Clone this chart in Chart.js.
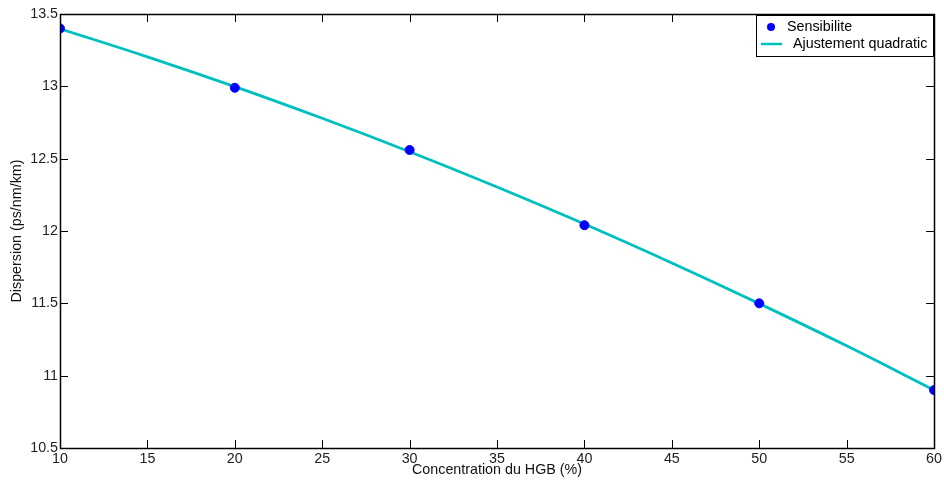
<!DOCTYPE html>
<html>
<head>
<meta charset="utf-8">
<script src="https://cdn.jsdelivr.net/npm/chart.js@4"></script>
<style>
  html, body { margin: 0; padding: 0; background: #fff; }
  #wrap { width: 944px; height: 486px; }
</style>
</head>
<body>
<div id="wrap"><canvas id="chart"></canvas></div>
<script>
// measured points
const concentration = [10, 20, 30, 40, 50, 60]
const dispersion = [13.4, 12.99, 12.56, 12.04, 11.5, 10.9]

// quadratic fit curve
const fitX = [10, 15, 20, 25, 30, 35, 40, 45, 50, 55, 60]
const fitY = [13.398, 13.204, 12.998, 12.779, 12.548, 12.304, 12.048, 11.779, 11.498, 11.206, 10.9]

const xTicks = [10, 15, 20, 25, 30, 35, 40, 45, 50, 55, 60]
const yTicks = [10.5, 11, 11.5, 12, 12.5, 13, 13.5]

const FONT = 'Liberation Sans, Arial, sans-serif'
const FS = 14.3

// MATLAB style frame, inward ticks and legend box inside the axes
const matlabFrame = {
  id: 'matlabFrame',
  afterDraw(chart) {
    const { ctx, chartArea: a, scales } = chart
    ctx.save()
    ctx.strokeStyle = '#000'
    ctx.lineWidth = 1
    const len = 8
    ctx.beginPath()
    xTicks.forEach(v => {
      const x = Math.round(scales.x.getPixelForValue(v)) + 0.5
      ctx.moveTo(x, a.bottom); ctx.lineTo(x, a.bottom - len)
      ctx.moveTo(x, a.top); ctx.lineTo(x, a.top + len)
    })
    yTicks.forEach(v => {
      const y = Math.round(scales.y.getPixelForValue(v)) + 0.5
      ctx.moveTo(a.left, y); ctx.lineTo(a.left + len, y)
      ctx.moveTo(a.right, y); ctx.lineTo(a.right - len, y)
    })
    ctx.stroke()
    ctx.lineWidth = 1.5
    ctx.strokeRect(Math.round(a.left) + 0.5, Math.round(a.top) + 0.5, Math.round(a.right - a.left), Math.round(a.bottom - a.top))

    // legend
    const bx = 756, by = 15, bw = 177, bh = 41
    ctx.fillStyle = '#fff'
    ctx.fillRect(bx, by, bw, bh)
    ctx.lineWidth = 1
    ctx.strokeRect(bx + 0.5, by + 0.5, bw, bh)
    ctx.font = FS + 'px ' + FONT
    ctx.textBaseline = 'middle'
    const ds = chart.data.datasets
    ctx.beginPath()
    ctx.fillStyle = ds[0].backgroundColor
    ctx.arc(bx + 15, by + 12, 4, 0, Math.PI * 2)
    ctx.fill()
    ctx.fillStyle = '#000'
    ctx.fillText(ds[0].label, bx + 31, by + 12)
    ctx.strokeStyle = ds[1].borderColor
    ctx.lineWidth = 2.5
    ctx.beginPath()
    ctx.moveTo(bx + 5, by + 29); ctx.lineTo(bx + 26, by + 29)
    ctx.stroke()
    ctx.fillText(ds[1].label, bx + 37, by + 29)
    ctx.restore()
  }
}

new Chart(document.getElementById('chart'), {
  type: 'scatter',
  data: {
    datasets: [
      {
        label: 'Sensibilite',
        data: concentration.map((x, i) => ({ x, y: dispersion[i] })),
        backgroundColor: '#0000ff',
        borderColor: '#0000ff',
        pointRadius: 4.5,
        order: 0
      },
      {
        label: 'Ajustement quadratic',
        type: 'line',
        data: fitX.map((x, i) => ({ x, y: fitY[i] })),
        borderColor: '#00bfbf',
        borderWidth: 2.8,
        pointRadius: 0,
        fill: false,
        tension: 0.4,
        order: 1
      }
    ]
  },
  options: {
    responsive: true,
    maintainAspectRatio: false,
    animation: false,
    layout: { padding: { left: 0, right: 8, top: 14, bottom: 0 } },
    plugins: { legend: { display: false }, tooltip: { enabled: false } },
    scales: {
      x: {
        type: 'linear',
        min: 10,
        max: 60,
        afterBuildTicks: s => { s.ticks = xTicks.map(value => ({ value })) },
        afterFit: s => { s.height = 38 },
        grid: { display: false, drawTicks: false },
        border: { display: false },
        ticks: { color: '#222', font: { family: FONT, size: FS }, padding: 2, maxRotation: 0, callback: v => String(v) },
        title: { display: true, text: 'Concentration du HGB (%)', color: '#111', font: { family: FONT, size: FS }, padding: { top: 0, bottom: 7 } }
      },
      y: {
        min: 10.5,
        max: 13.5,
        afterBuildTicks: s => { s.ticks = yTicks.map(value => ({ value })) },
        afterFit: s => { s.width = 60 },
        grid: { display: false, drawTicks: false },
        border: { display: false },
        ticks: { color: '#222', font: { family: FONT, size: FS }, padding: 2, callback: v => String(v) },
        title: { display: true, text: 'Dispersion (ps/nm/km)', color: '#111', font: { family: FONT, size: FS }, padding: { top: 8, bottom: 0 } }
      }
    }
  },
  plugins: [matlabFrame]
})
</script>
</body>
</html>
